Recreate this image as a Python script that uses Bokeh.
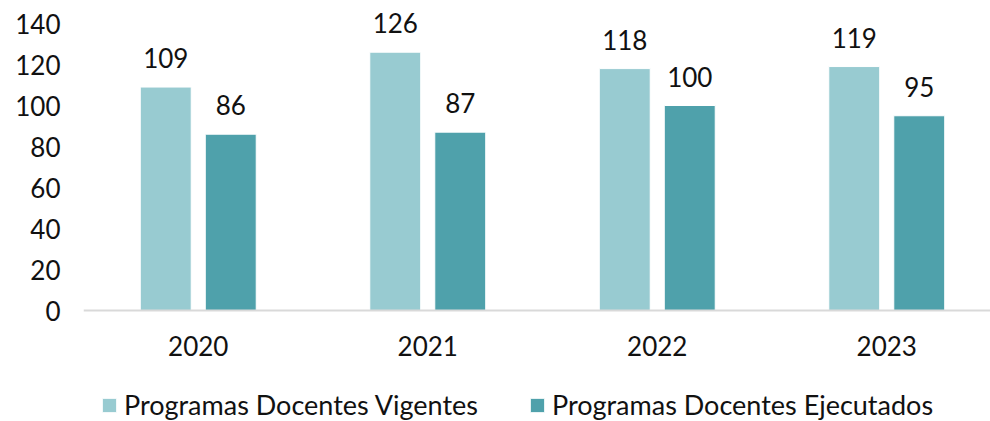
from bokeh.plotting import figure
from bokeh.models import ColumnDataSource, Range1d, FixedTicker, Legend, LegendItem, Span
from bokeh.core.properties import value
from bokeh.embed import file_html
from bokeh.resources import INLINE

years = ["2020", "2021", "2022", "2023"]
vigentes = [109, 126, 118, 119]
ejecutados = [86, 87, 100, 95]
series_names = ["Programas Docentes Vigentes", "Programas Docentes Ejecutados"]
y_ticks = [0, 20, 40, 60, 80, 100, 120, 140]

c_light = "#98CBD1"
c_dark = "#4FA1AB"
FONT = "Lato"
FS = "26px"

xc = [i + 0.5 for i in range(len(years))]
off = 0.1416
bw = 0.222

src_v = ColumnDataSource(dict(x=[x - off for x in xc], top=vigentes, lbl=[str(v) for v in vigentes]))
src_e = ColumnDataSource(dict(x=[x + off for x in xc], top=ejecutados, lbl=[str(v) for v in ejecutados]))
src_x = ColumnDataSource(dict(x=xc, y=[0] * len(xc), lbl=years))

ppu = 287 / 140  # pixels per unit
p = figure(width=990, height=421, output_backend="svg", toolbar_location=None,
           x_axis_location=None,
           x_range=Range1d(0, 907 / 229.5), y_range=Range1d(-(421 - 310) / ppu, 310 / ppu),
           min_border_left=83, min_border_top=0, min_border_right=0, min_border_bottom=0)
p.outline_line_color = None
p.background_fill_color = "white"
p.border_fill_color = "white"
p.grid.grid_line_color = None

r1 = p.vbar(x="x", top="top", bottom=0, width=bw, source=src_v, fill_color=c_light, line_color="white", line_width=1)
r2 = p.vbar(x="x", top="top", bottom=0, width=bw, source=src_e, fill_color=c_dark, line_color="white", line_width=1)

# category axis line at zero
p.add_layout(Span(location=0, dimension="width", line_color="#D9D9D9", line_width=2))

# value labels
for s in (src_v, src_e):
    p.text(x="x", y="top", text="lbl", source=s, text_align="center", text_baseline="bottom",
           y_offset=-19, text_font=value(FONT), text_font_size=FS, text_color="#111111")

# category labels
p.text(x="x", y="y", text="lbl", source=src_x, text_align="center", text_baseline="top",
       y_offset=25, text_font=value(FONT), text_font_size=FS, text_color="#111111")

# y axis
p.yaxis.ticker = FixedTicker(ticks=y_ticks)
p.yaxis.axis_line_color = None
p.yaxis.major_tick_line_color = None
p.yaxis.minor_tick_line_color = None
p.yaxis.major_label_text_font = FONT
p.yaxis.major_label_text_font_size = FS
p.yaxis.major_label_text_color = "#111111"
p.yaxis.major_label_standoff = 17

legend = Legend(items=[LegendItem(label=series_names[0], renderers=[r1]),
                       LegendItem(label=series_names[1], renderers=[r2])],
                orientation="horizontal", location=(17, 0),
                label_text_font=FONT, label_text_font_size="27px", label_text_color="#111111",
                glyph_width=18, glyph_height=18, label_standoff=6, spacing=50,
                border_line_color=None, background_fill_alpha=0, padding=0, margin=0)
p.add_layout(legend, "center")

open("out.html", "w").write(file_html(p, INLINE))
